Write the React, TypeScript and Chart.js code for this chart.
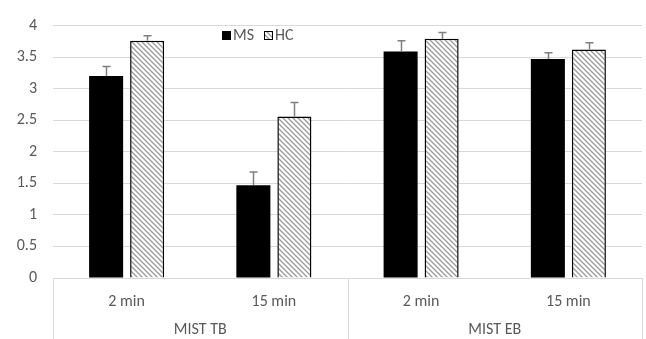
import React, { useEffect, useRef } from 'react';
import { Chart, registerables } from 'chart.js';

Chart.register(...registerables);

const categories = ['2 min', '15 min', '2 min', '15 min'];
const groups = ['MIST TB', 'MIST EB'];
const groupSpans = [2, 2];
const seriesNames = ['MS', 'HC'];
const msValues = [3.2, 1.47, 3.59, 3.47];
const hcValues = [3.76, 2.56, 3.79, 3.62];
const msErrors = [0.15, 0.21, 0.17, 0.1];
const hcErrors = [0.08, 0.22, 0.1, 0.11];
const yTicksMax = 4;
const yTicksStep = 0.5;

const FONT = 'Carlito, Lato, "Liberation Sans", sans-serif';
const FS = 16;
const TEXT = '#595959';
const GRID = '#d9d9d9';

function makeHatch(ctx: CanvasRenderingContext2D): CanvasPattern | string {
  const s = 5;
  const c = document.createElement('canvas');
  c.width = s;
  c.height = s;
  const g = c.getContext('2d');
  if (!g) return '#ccc';
  g.fillStyle = '#ffffff';
  g.fillRect(0, 0, s, s);
  g.strokeStyle = '#9a9a9a';
  g.lineWidth = 1.3;
  g.beginPath();
  g.moveTo(-1, -1);
  g.lineTo(s + 1, s + 1);
  g.moveTo(-1, s - 1);
  g.lineTo(1, s + 1);
  g.moveTo(s - 1, -1);
  g.lineTo(s + 1, 1);
  g.stroke();
  return ctx.createPattern(c, 'repeat') || '#ccc';
}

export default function App() {
  const ref = useRef<HTMLCanvasElement>(null);

  useEffect(() => {
    document.body.style.margin = '0';
    const canvas = ref.current!;
    const ctx = canvas.getContext('2d')!;
    const hatch = makeHatch(ctx);
    const errors = [msErrors, hcErrors];

    const errorPlugin = {
      id: 'errbars',
      afterDatasetsDraw(chart: any) {
        const c = chart.ctx;
        const y = chart.scales.y;
        c.save();
        c.strokeStyle = '#7f7f7f';
        c.lineWidth = 1.5;
        chart.data.datasets.forEach((ds: any, di: number) => {
          const meta = chart.getDatasetMeta(di);
          meta.data.forEach((bar: any, i: number) => {
            const v = ds.data[i];
            const top = y.getPixelForValue(v + errors[di][i]);
            const x = Math.round(bar.x) + 0.5;
            c.beginPath();
            c.moveTo(x, bar.y);
            c.lineTo(x, top);
            c.moveTo(x - 4, top);
            c.lineTo(x + 4, top);
            c.stroke();
          });
        });
        c.restore();
      },
    };

    const groupPlugin = {
      id: 'groups',
      afterDraw(chart: any) {
        const c = chart.ctx;
        const xs = chart.scales.x;
        const area = chart.chartArea;
        const H = chart.height;
        c.save();
        c.strokeStyle = GRID;
        c.lineWidth = 1;
        const bounds: number[] = [area.left];
        let idx = 0;
        groupSpans.forEach((span) => {
          idx += span;
          if (idx < categories.length) {
            bounds.push((xs.getPixelForValue(idx - 1) + xs.getPixelForValue(idx)) / 2);
          } else {
            bounds.push(area.right);
          }
        });
        bounds.forEach((b) => {
          const x = Math.round(b) + 0.5;
          c.beginPath();
          c.moveTo(x, area.bottom);
          c.lineTo(x, H);
          c.stroke();
        });
        c.fillStyle = TEXT;
        c.font = FS + 'px ' + FONT;
        c.textAlign = 'center';
        c.textBaseline = 'middle';
        groups.forEach((g, gi) => {
          c.fillText(g, (bounds[gi] + bounds[gi + 1]) / 2, 330);
        });

        // legend
        c.textAlign = 'left';
        const ly = 35;
        c.fillStyle = '#000';
        c.fillRect(222, ly - 4, 9, 9);
        c.fillStyle = TEXT;
        c.fillText(seriesNames[0], 233, ly + 1);
        c.fillStyle = hatch as any;
        c.fillRect(264, ly - 4, 9, 9);
        c.strokeStyle = '#000';
        c.lineWidth = 1;
        c.strokeRect(264.5, ly - 3.5, 8, 8);
        c.fillStyle = TEXT;
        c.fillText(seriesNames[1], 275, ly + 1);
        c.restore();
      },
    };

    const chart = new Chart(canvas, {
      type: 'bar',
      data: {
        labels: categories,
        datasets: [
          {
            label: seriesNames[0],
            data: msValues,
            backgroundColor: '#000000',
            borderColor: '#000000',
            borderWidth: 0,
            categoryPercentage: 0.557,
            barPercentage: 0.83,
          },
          {
            label: seriesNames[1],
            data: hcValues,
            backgroundColor: hatch as any,
            borderColor: '#000000',
            borderWidth: 1.5,
            categoryPercentage: 0.557,
            barPercentage: 0.83,
          },
        ],
      },
      options: {
        responsive: false,
        animation: false,
        layout: { padding: { top: 17, right: 4, left: 0, bottom: 0 } },
        plugins: {
          legend: { display: false },
          tooltip: { enabled: false },
        },
        scales: {
          x: {
            grid: { display: false },
            border: { display: true, color: GRID },
            ticks: {
              color: TEXT,
              font: { family: FONT, size: FS },
              padding: 6,
              maxRotation: 0,
            },
            afterFit(scale: any) {
              scale.height = 61;
            },
          },
          y: {
            min: 0,
            max: yTicksMax,
            border: { display: false },
            grid: { color: GRID, drawTicks: false },
            ticks: {
              stepSize: yTicksStep,
              color: TEXT,
              font: { family: FONT, size: FS },
              padding: 16,
              callback: (v: any) => String(Number(v)),
            },
            afterFit(scale: any) {
              scale.width = 53;
            },
          },
        },
      },
      plugins: [errorPlugin, groupPlugin],
    });
    return () => chart.destroy();
  }, []);

  return (
    <div style={{ width: 646, height: 339 }}>
      <canvas ref={ref} width={646} height={339} style={{ display: 'block' }} />
    </div>
  );
}
